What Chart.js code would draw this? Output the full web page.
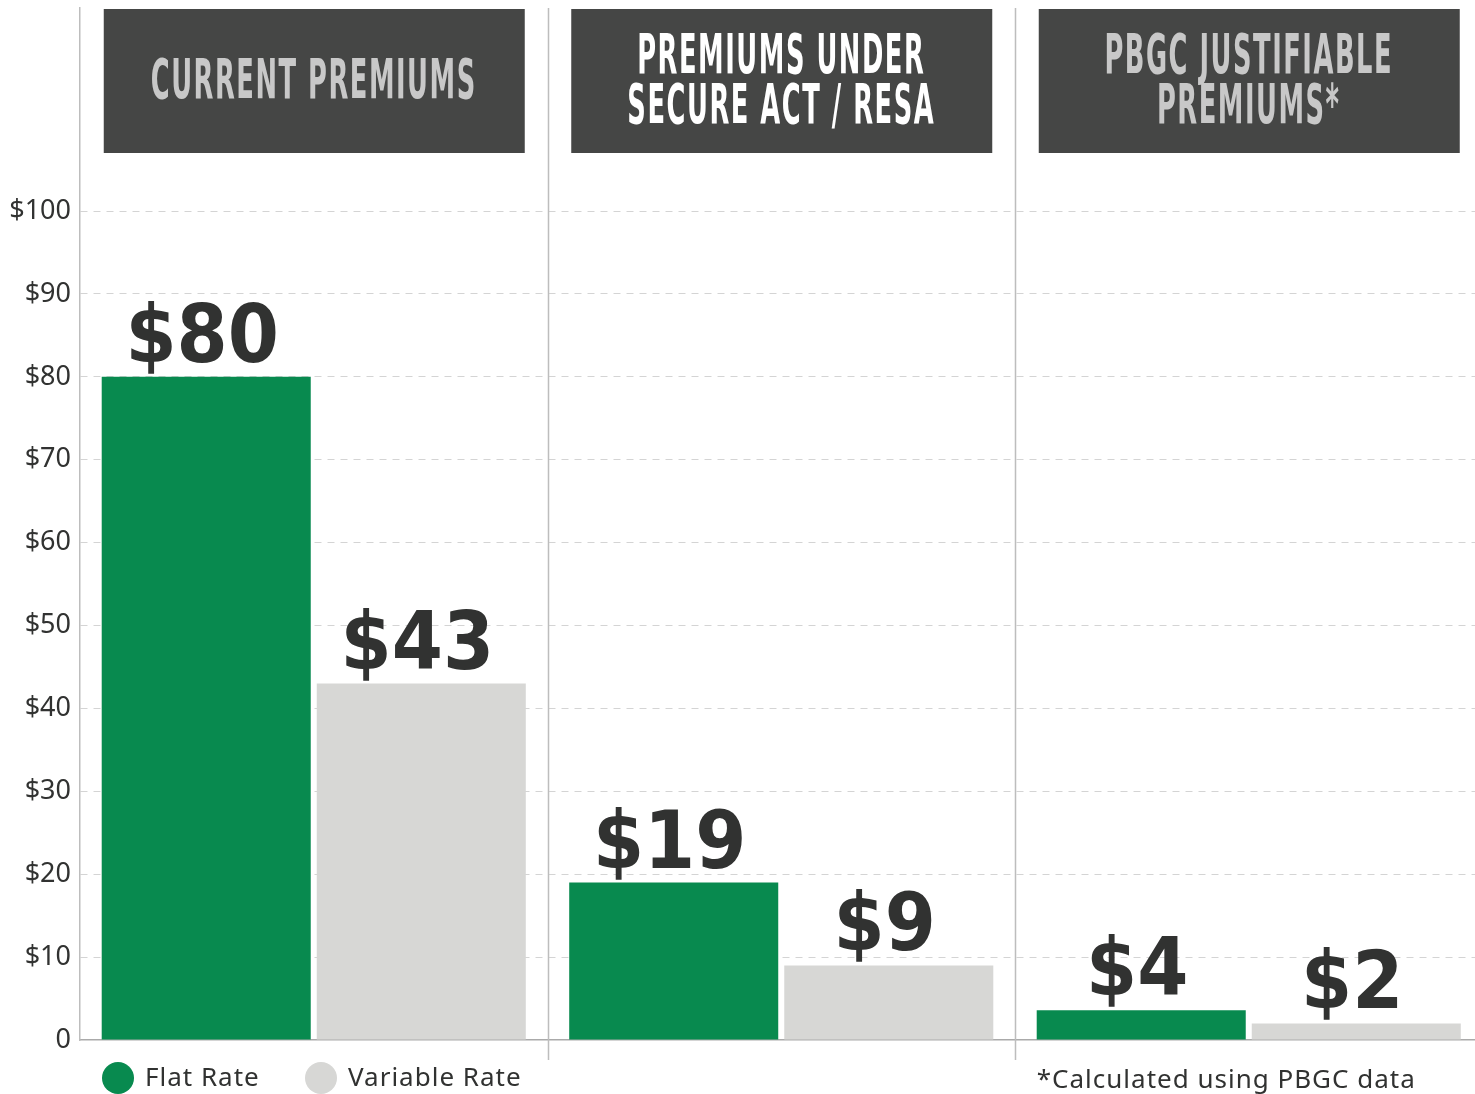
<!DOCTYPE html>
<html lang="en">
<head>
<meta charset="UTF-8">
<title>PBGC premiums</title>
<script src="https://cdn.jsdelivr.net/npm/chart.js"></script>
<style>
  html, body { margin: 0; padding: 0; background: #fff; overflow: hidden; }
  #wrap { width: 1490px; height: 1094px; position: relative; }
</style>
</head>
<body>
<div id="wrap"><canvas id="grafico"></canvas></div>
<script>
  // dados
  var grupos = ['Current Premiums', 'Premiums Under Secure Act / RESA', 'PBGC Justifiable Premiums*']
  var cabecalhos = [['CURRENT PREMIUMS'], ['PREMIUMS UNDER', 'SECURE ACT / RESA'], ['PBGC JUSTIFIABLE', 'PREMIUMS*']]
  var corCabecalho = ['#c8c8c8', '#ffffff', '#c8c8c8']
  var taxaFixa = [80, 19, 3.6]      // Flat Rate
  var taxaVariavel = [43, 9, 2]     // Variable Rate
  var rotulos = ['$80', '$19', '$4', '$43', '$9', '$2']
  var ticksY = [0, 10, 20, 30, 40, 50, 60, 70, 80, 90, 100]
  var nota = '*Calculated using PBGC data'

  var verde = '#088a4f'
  var cinza = '#d7d7d5'
  var escuro = '#313231'

  const extras = {
    id: 'extras',
    beforeDatasetsDraw(chart) {
      const ctx = chart.ctx
      const area = chart.chartArea
      const x = chart.scales.x
      ctx.save()
      // linhas separadoras entre grupos
      ctx.strokeStyle = '#bdbdbd'
      ctx.lineWidth = 1.5
      for (let i = 0; i < grupos.length - 1; i++) {
        const xs = Math.round((x.getPixelForValue(i) + x.getPixelForValue(i + 1)) / 2) + 0.5
        ctx.beginPath()
        ctx.moveTo(xs, area.top)
        ctx.lineTo(xs, area.bottom + 20)
        ctx.stroke()
      }
      ctx.restore()
    },
    afterDatasetsDraw(chart) {
      const ctx = chart.ctx
      const area = chart.chartArea
      const x = chart.scales.x
      ctx.save()

      // caixas de titulo
      ctx.font = 'bold 56px "DejaVu Sans Condensed", "Liberation Sans Narrow", sans-serif'
      ctx.letterSpacing = '3px'
      const sx = 326 / ctx.measureText('CURRENT PREMIUMS').width
      for (let i = 0; i < grupos.length; i++) {
        const cx = x.getPixelForValue(i)
        const top = area.top + 1
        ctx.fillStyle = '#454645'
        ctx.fillRect(cx - 210, top, 421, 144)
        ctx.fillStyle = corCabecalho[i]
        ctx.textAlign = 'center'
        ctx.textBaseline = 'middle'
        const linhas = cabecalhos[i]
        const meio = top + 73
        for (let j = 0; j < linhas.length; j++) {
          const ly = meio + (j - (linhas.length - 1) / 2) * 50
          ctx.save()
          ctx.translate(cx, ly + 1)
          ctx.scale(sx, 1)
          ctx.fillText(linhas[j], 0, 0)
          ctx.restore()
        }
      }
      ctx.letterSpacing = '0px'

      // rotulos dos valores
      ctx.font = 'bold 80px "DejaVu Sans", sans-serif'
      ctx.fillStyle = escuro
      ctx.textAlign = 'center'
      ctx.textBaseline = 'alphabetic'
      let k = 0
      chart.data.datasets.forEach(function (ds, d) {
        chart.getDatasetMeta(d).data.forEach(function (bar) {
          ctx.save()
          ctx.translate(bar.x - 4, bar.y - 15)
          ctx.scale(0.92, 1)
          ctx.fillText(rotulos[k], 0, 0)
          ctx.restore()
          k++
        })
      })

      // legenda
      ctx.font = '26px "Noto Sans", sans-serif'
      ctx.letterSpacing = '1px'
      ctx.textAlign = 'left'
      ctx.textBaseline = 'middle'
      let lx = area.left + 38
      const ly = area.bottom + 38
      chart.data.datasets.forEach(function (ds) {
        ctx.fillStyle = ds.backgroundColor
        ctx.beginPath()
        ctx.arc(lx, ly, 16, 0, Math.PI * 2)
        ctx.fill()
        ctx.fillStyle = escuro
        ctx.fillText(ds.label, lx + 27, ly + 1)
        lx += 203
      })

      // nota de rodape
      ctx.fillText(nota, x.getPixelForValue(2) - 212, ly + 3)
      ctx.restore()
    }
  }

  new Chart(document.getElementById('grafico'), {
    type: 'bar',
    data: {
      labels: grupos,
      datasets: [
        { label: 'Flat Rate', data: taxaFixa, backgroundColor: verde },
        { label: 'Variable Rate', data: taxaVariavel, backgroundColor: cinza }
      ]
    },
    options: {
      responsive: true,
      maintainAspectRatio: false,
      animation: false,
      layout: { padding: { top: 8, bottom: 54, right: 7.5, left: 0 } },
      categoryPercentage: 0.92,
      barPercentage: 0.972,
      plugins: { legend: { display: false }, tooltip: { enabled: false } },
      scales: {
        x: {
          ticks: { display: false },
          grid: { display: false },
          border: { display: true, color: '#aaaaaa', width: 1.5 },
          afterFit(s) { s.height = 0 }
        },
        y: {
          min: 0,
          max: 124.5,
          afterBuildTicks(s) { s.ticks = ticksY.map(v => ({ value: v })) },
          ticks: {
            padding: 9,
            color: escuro,
            font: { family: '"Noto Sans", sans-serif', size: 27 },
            callback: v => v === 0 ? '0' : '$' + v
          },
          grid: {
            drawTicks: false,
            color: c => c.tick && c.tick.value === 0 ? 'rgba(0,0,0,0)' : '#d4d4d4',
            lineWidth: 1
          },
          border: { display: true, color: '#bdbdbd', width: 1.5, dash: [7, 6] },
          afterFit(s) { s.width = 80; s.paddingTop = 0 }
        }
      }
    },
    plugins: [extras]
  })
</script>
</body>
</html>
